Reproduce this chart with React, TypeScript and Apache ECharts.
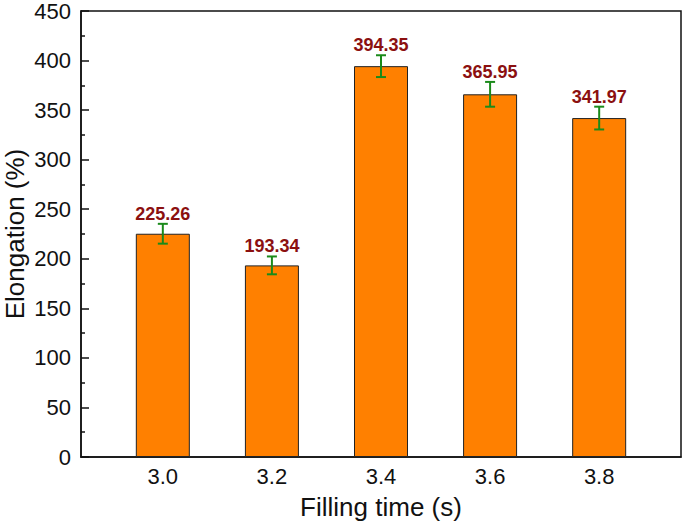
import React, { useEffect, useRef } from "react";
import * as echarts from "echarts";

const fillingTimes = [3.0, 3.2, 3.4, 3.6, 3.8];
const elongation = [225.26, 193.34, 394.35, 365.95, 341.97];
const errors = [10, 9, 11, 12.5, 11.5];
const yTicks = [0, 50, 100, 150, 200, 250, 300, 350, 400, 450];

export default function App() {
  const ref = useRef<HTMLDivElement>(null);
  useEffect(() => {
    if (!ref.current) return;
    const chart = echarts.init(ref.current, null, { renderer: "svg" });
    const barData = fillingTimes.map((t, i) => [t, elongation[i]]);
    const errData = fillingTimes.map((t, i) => [t, elongation[i], errors[i]]);
    chart.setOption({
      animation: false,
      grid: {
        left: 81,
        right: 2,
        top: 11,
        bottom: 67,
        containLabel: false,
        outerBoundsMode: "none",
        show: true,
        borderColor: "#111",
        borderWidth: 1.5,
        backgroundColor: "transparent",
      },
      xAxis: {
        type: "value",
        min: 2.85,
        max: 3.95,
        name: "Filling time (s)",
        nameLocation: "middle",
        nameGap: 37,
        nameMoveOverlap: false,
        nameTextStyle: { fontFamily: "Liberation Sans", fontSize: 26, color: "#111" },
        splitLine: { show: false },
        axisLine: { show: true, lineStyle: { color: "#111", width: 1.5 } },
        axisTick: {
          show: true,
          inside: true,
          length: 8,
          customValues: fillingTimes,
          lineStyle: { color: "#111", width: 1.5 },
        },
        axisLabel: {
          customValues: fillingTimes,
          formatter: (v: number) => v.toFixed(1),
          fontFamily: "Liberation Sans",
          fontSize: 22,
          color: "#111",
          margin: 8,
        },
      },
      yAxis: {
        type: "value",
        min: 0,
        max: 450,
        interval: 50,
        name: "Elongation (%)",
        nameLocation: "middle",
        nameGap: 53,
        nameMoveOverlap: false,
        nameTextStyle: { fontFamily: "Liberation Sans", fontSize: 26, color: "#111" },
        splitLine: { show: false },
        axisLine: { show: true, lineStyle: { color: "#111", width: 1.5 } },
        axisTick: { show: true, inside: true, length: 8, lineStyle: { color: "#111", width: 1.5 } },
        minorTick: { show: true, splitNumber: 2, length: 4, lineStyle: { color: "#111", width: 1.5 } },
        axisLabel: {
          customValues: yTicks,
          fontFamily: "Liberation Sans",
          fontSize: 22,
          color: "#111",
          margin: 10,
        },
      },
      series: [
        {
          type: "bar",
          data: barData,
          barWidth: 54,
          itemStyle: { color: "#FF8000", borderColor: "#222", borderWidth: 1 },
        },
        {
          type: "custom",
          data: errData,
          z: 10,
          renderItem: (params: any, api: any) => {
            const x = api.value(0);
            const v = api.value(1);
            const e = api.value(2);
            const top = api.coord([x, v + e]);
            const bot = api.coord([x, v - e]);
            const half = 5;
            const style = { stroke: "#1a8a1a", lineWidth: 2 };
            return {
              type: "group",
              children: [
                { type: "line", shape: { x1: top[0], y1: top[1], x2: bot[0], y2: bot[1] }, style },
                { type: "line", shape: { x1: top[0] - half, y1: top[1], x2: top[0] + half, y2: top[1] }, style },
                { type: "line", shape: { x1: bot[0] - half, y1: bot[1], x2: bot[0] + half, y2: bot[1] }, style },
                {
                  type: "text",
                  x: top[0],
                  y: top[1] - 1,
                  style: {
                    text: v.toFixed(2),
                    fill: "#8B1010",
                    font: "bold 18px 'Liberation Sans'",
                    textAlign: "center",
                    textVerticalAlign: "bottom",
                  },
                },
              ],
            };
          },
        },
      ],
    });
    return () => chart.dispose();
  }, []);
  return <div ref={ref} style={{ width: 683, height: 524, position: "absolute", left: 0, top: 0 }} />;
}
